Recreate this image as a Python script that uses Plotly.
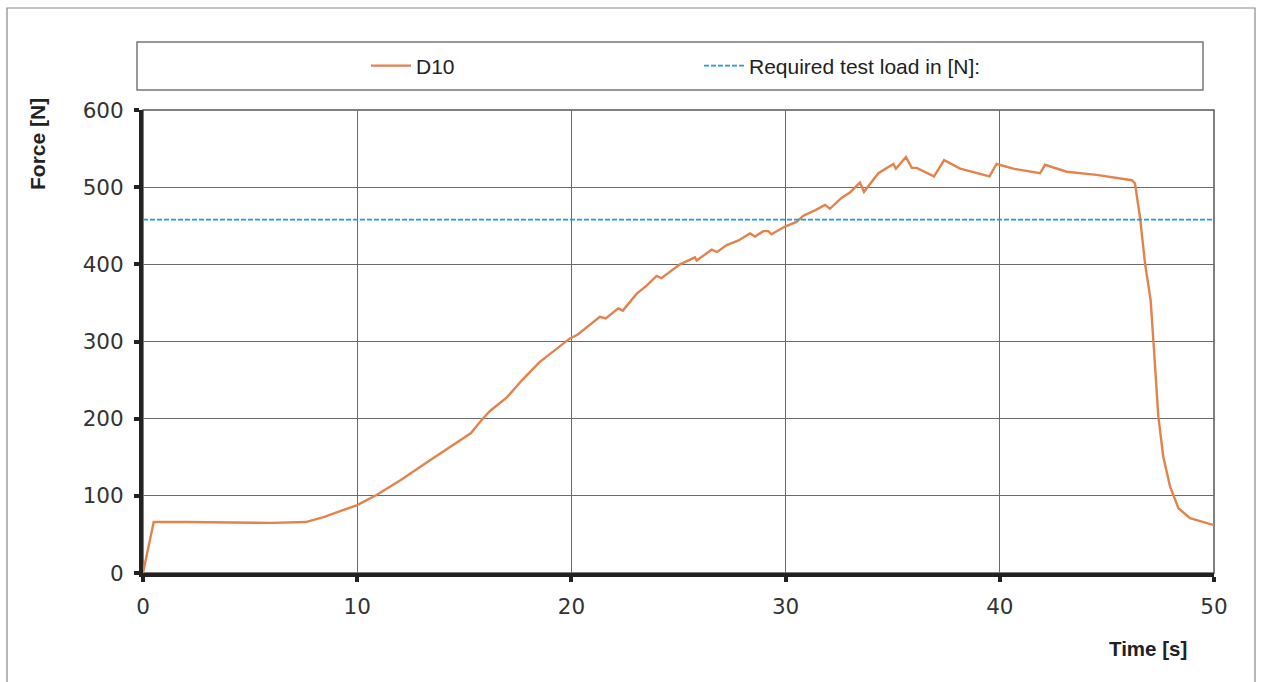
import plotly.graph_objects as go

# ---- data ----
time_s = [0, 0.5, 2, 4, 6, 7.6, 8.5, 9.3, 10, 10.9, 12, 13.4, 14.5, 15.3, 15.8, 16.2,
          17, 17.7, 18.5, 19.3, 19.93, 20.3, 21.33, 21.6, 22.19, 22.4, 23.05, 23.5,
          23.98, 24.2, 25.07, 25.77, 25.85, 26.55, 26.8, 27.25, 27.8, 28.34, 28.57,
          28.96, 29.2, 29.34, 29.97, 30.51, 30.83, 31.37, 31.84, 32.07, 32.61, 33.0,
          33.47, 33.66, 34.33, 35.03, 35.15, 35.62, 35.89, 36.12, 36.93, 37.4, 38.15,
          39.52, 39.85, 40.63, 41.88, 42.11, 43.12, 44.52, 46.16, 46.31, 46.54, 46.78,
          47.04, 47.2, 47.4, 47.63, 47.95, 48.34, 48.88, 50]
force_n = [0, 66, 66, 65.5, 65, 66, 73, 81, 88, 101, 120, 146, 166, 181, 198, 210,
           228, 250, 273, 291, 304, 309, 332, 330, 343, 340, 362, 372,
           385, 382, 400, 409, 405, 419, 416, 425, 431, 440, 436,
           443, 443, 439, 449, 455, 463, 470, 477, 472, 486, 493,
           506, 494, 518, 530, 524, 539, 525, 525, 514, 535, 524,
           514, 530, 524, 518, 529, 520, 516, 509, 505, 462, 401,
           354, 289, 203, 151, 112, 84, 71, 62]
required_x = [0, 50]
required_load = [458, 458]

x_ticks = [0, 10, 20, 30, 40, 50]
y_ticks = [0, 100, 200, 300, 400, 500, 600]

# ---- layout geometry (pixels) ----
W, H = 1262, 682
L, R, T, B = 143, 1214, 110, 573


def px(xp):
    return (xp - L) / (R - L)


def py(yp):
    return (B - yp) / (B - T)


fig = go.Figure()
fig.add_trace(go.Scatter(x=time_s, y=force_n, mode="lines", name="D10",
                         line=dict(color="#E2824C", width=2.4)))
fig.add_trace(go.Scatter(x=required_x, y=required_load, mode="lines",
                         name="Required test load in [N]:",
                         line=dict(color="#1E9BDB", width=1.6, dash="5px,2px")))

fig.update_layout(
    width=W, height=H,
    margin=dict(l=L, r=W - R, t=T, b=H - B),
    paper_bgcolor="white", plot_bgcolor="white",
    font=dict(family="DejaVu Sans", color="#333333"),
    showlegend=True,
    legend=dict(orientation="h", x=px(366), xanchor="left", y=py(66), yanchor="middle",
                font=dict(family="Liberation Sans", size=21, color="#222222"),
                entrywidth=278, entrywidthmode="pixels",
                bgcolor="rgba(0,0,0,0)", borderwidth=0, itemwidth=40),
    xaxis=dict(range=[0, 50], tickvals=x_ticks, showgrid=True, gridcolor="#6a6a6a",
               gridwidth=1, zeroline=False, showline=True, linecolor="#222222",
               linewidth=4, ticks="outside", ticklen=5, tickwidth=4,
               tickcolor="#222222", tickfont=dict(family="DejaVu Sans", size=21.5,
                                                  color="#333333"),
               ticklabelstandoff=6),
    yaxis=dict(range=[0, 600], tickvals=y_ticks, showgrid=True, gridcolor="#6a6a6a",
               gridwidth=1, zeroline=False, showline=True, linecolor="#222222",
               linewidth=4, ticks="outside", ticklen=5, tickwidth=4,
               tickcolor="#222222", tickfont=dict(family="DejaVu Sans", size=21.5,
                                                  color="#333333"),
               ticklabelstandoff=6),
    shapes=[
        # plot area border (top/right thin)
        dict(type="rect", xref="paper", yref="paper", x0=0, x1=1, y0=0, y1=1,
             line=dict(color="#555555", width=1.5), layer="below"),
        # legend box
        dict(type="rect", xref="paper", yref="paper", x0=px(137), x1=px(1203),
             y0=py(90), y1=py(42), line=dict(color="#777777", width=1.5)),
        # outer frame
        dict(type="rect", xref="paper", yref="paper", x0=px(7), x1=px(1255),
             y0=py(700), y1=py(8), line=dict(color="#888888", width=1.2)),
    ],
    annotations=[
        dict(text="<b>Force [N]</b>", xref="paper", yref="paper", x=px(37), y=py(144),
             textangle=-90, showarrow=False, xanchor="center", yanchor="middle",
             font=dict(family="Liberation Sans", size=21, color="#222222")),
        dict(text="<b>Time [s]</b>", xref="paper", yref="paper", x=px(1148), y=py(648),
             showarrow=False, xanchor="center", yanchor="middle",
             font=dict(family="Liberation Sans", size=20.5, color="#222222")),
    ],
)

fig.write_html("out.html")
